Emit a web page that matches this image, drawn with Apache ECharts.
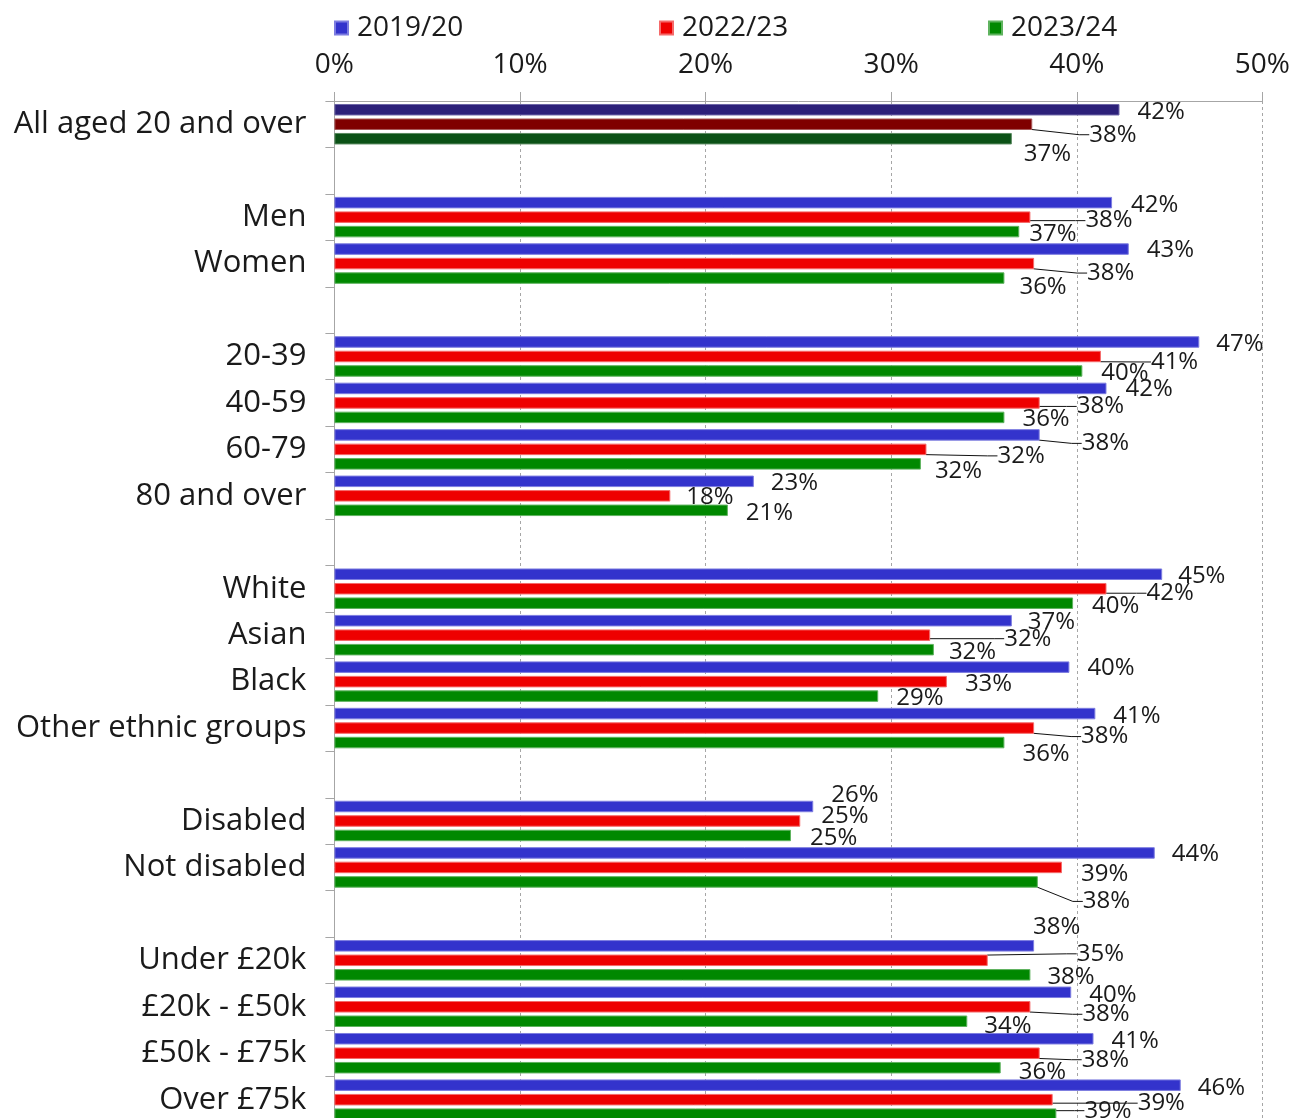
<!DOCTYPE html>
<html>
<head>
<meta charset="utf-8">
<title>Share of adults by group, 2019/20 to 2023/24</title>
<script src="https://cdn.jsdelivr.net/npm/echarts@6/dist/echarts.min.js"></script>
<style>
  html, body { margin: 0; padding: 0; background: #ffffff; overflow: hidden; }
  /* the plot runs slightly past the bottom of the window, so the canvas is taller */
  #chart { width: 1293px; height: 1140px; }
</style>
</head>
<body>
<div id="chart"></div>
<script>
// Row labels; empty strings are spacer rows between the groups
const categories = [
  'All aged 20 and over', '',
  'Men', 'Women', '',
  '20-39', '40-59', '60-79', '80 and over', '',
  'White', 'Asian', 'Black', 'Other ethnic groups', '',
  'Disabled', 'Not disabled', '',
  'Under £20k', '£20k - £50k', '£50k - £75k', 'Over £75k'
];

const seriesNames = ['2019/20', '2022/23', '2023/24'];

// Percentages per row (null on spacer rows)
const values2019 = [42.3, null, 41.9, 42.8, null, 46.6, 41.6, 38.0, 22.6, null, 44.6, 36.5, 39.6, 41.0, null, 25.8, 44.2, null, 37.7, 39.7, 40.9, 45.6];
const values2022 = [37.6, null, 37.5, 37.7, null, 41.3, 38.0, 31.9, 18.1, null, 41.6, 32.1, 33.0, 37.7, null, 25.1, 39.2, null, 35.2, 37.5, 38.0, 38.7];
const values2023 = [36.5, null, 36.9, 36.1, null, 40.3, 36.1, 31.6, 21.2, null, 39.8, 32.3, 29.3, 36.1, null, 24.6, 37.9, null, 37.5, 34.1, 35.9, 38.9];

const xTicks = [0, 10, 20, 30, 40, 50];

// Colours: regular rows, and the darker shade used on the headline row
const colours = ['#3333cc', '#ee0000', '#008800'];
const headlineColours = ['#2c2079', '#7f0000', '#0b5116'];
const borderColours = ['#7d7de0', '#f56a6a', '#5fb35f'];
const headlineBorderColours = ['#6e66a8', '#a85a5a', '#5a8a60'];

// Label nudges [dx, dy] in px from the default right-hand position
const labelNudges = [
  [[13,1], null, [14,1], [13,0], null, [12,1], [14,-1], [37,7], [12,0], null, [11,0], [11,0], [13,0], [13,1], null, [13,-13], [12,0], null, [-6,-20], [13,1], [13,1], [12,1]],
  [[52,9], null, [50,2], [48,8], null, [45,4], [32,2], [66,5], [11,0], null, [35,3], [69,2], [13,1], [42,7], null, [16,-6], [14,5], null, [84,-8], [47,6], [37,5], [80,2]],
  [[7,14], null, [5,1], [10,8], null, [14,1], [13,0], [9,6], [13,1], null, [14,1], [10,1], [13,1], [13,10], null, [14,1], [40,18], null, [12,1], [12,3], [13,3], [23,-5]]
];
// Rows whose label is joined to its bar by a leader line
const leaderRows = [
  [7],
  [0, 2, 3, 5, 6, 7, 10, 11, 13, 18, 19, 20, 21],
  [16, 21]
];
// Gap left between the end of a leader line and its label text
const LEADER_GAP = 7;
const LABEL_DISTANCE = 5;
// The digits sit a little high in their box; drop every value label slightly
const LABEL_BASE_DY = 1.5;

const FONT = '"Open Sans", Lato, sans-serif';
const TEXT = '#1a1a1a';
const GRID_GREY = '#a6a6a6';

const allValues = [values2019, values2022, values2023];

function hasLeader(s, i) {
  return leaderRows[s].indexOf(i) >= 0;
}

function buildData(values, s) {
  return values.map(function (v, i) {
    if (v === null) return null;
    const leader = hasLeader(s, i);
    const item = {
      value: v,
      labelLine: { show: leader },
      label: { padding: [0, 0, 0, leader ? LEADER_GAP : 0] }
    };
    if (i === 0) {
      item.itemStyle = { color: headlineColours[s], borderColor: headlineBorderColours[s] };
    }
    return item;
  });
}

// Place each label from the end of its own bar, shifted by its nudge
function labelLayout(p) {
  const nudge = labelNudges[p.seriesIndex][p.dataIndex];
  if (!nudge) return {};
  const r = p.rect;
  const pad = hasLeader(p.seriesIndex, p.dataIndex) ? LEADER_GAP : 0;
  return {
    x: r.x + r.width + LABEL_DISTANCE + nudge[0] - pad,
    y: r.y + r.height / 2 + nudge[1] + LABEL_BASE_DY,
    align: 'left',
    verticalAlign: 'middle'
  };
}

const series = seriesNames.map(function (name, s) {
  return {
    name: name,
    type: 'bar',
    data: buildData(allValues[s], s),
    barWidth: 11.5,
    barGap: '26%',
    itemStyle: { color: colours[s], borderColor: borderColours[s], borderWidth: 1 },
    label: {
      show: true,
      position: 'right',
      distance: LABEL_DISTANCE,
      fontFamily: FONT,
      fontSize: 24,
      color: TEXT,
      formatter: function (p) { return Math.round(p.value) + '%'; }
    },
    labelLine: { show: false, length2: 10, minTurnAngle: 0, lineStyle: { color: '#111111', width: 1 } },
    labelLayout: labelLayout,
    emphasis: { disabled: true },
    animation: false
  };
});

function legendFor(name, left) {
  return {
    data: [name],
    left: left,
    top: 8,
    icon: 'rect',
    itemWidth: 13,
    itemHeight: 13,
    itemGap: 0,
    selectedMode: false,
    textStyle: { fontFamily: FONT, fontSize: 28, color: TEXT, lineHeight: 30, padding: [0, 0, 0, 4] }
  };
}

const chart = echarts.init(document.getElementById('chart'), null, { renderer: 'canvas' });
chart.setOption({
  backgroundColor: '#ffffff',
  animation: false,
  legend: [
    legendFor('2019/20', 329),
    legendFor('2022/23', 654),
    legendFor('2023/24', 983)
  ],
  grid: { left: 334.4, top: 101, width: 928, height: 1021.9, containLabel: false },
  xAxis: {
    type: 'value',
    position: 'top',
    min: xTicks[0],
    max: xTicks[xTicks.length - 1],
    interval: xTicks[1] - xTicks[0],
    axisLine: { show: true, lineStyle: { color: GRID_GREY, width: 1 } },
    axisTick: { show: true, length: 9, lineStyle: { color: GRID_GREY } },
    axisLabel: {
      margin: 22,
      fontFamily: FONT,
      fontSize: 28,
      color: TEXT,
      formatter: function (v) { return v + '%'; }
    },
    splitLine: { show: true, lineStyle: { color: GRID_GREY, type: [3, 3], width: 1 } }
  },
  yAxis: {
    type: 'category',
    data: categories,
    inverse: true,
    axisLine: { show: true, lineStyle: { color: GRID_GREY, width: 1 } },
    axisTick: { show: true, length: 9, lineStyle: { color: GRID_GREY } },
    axisLabel: {
      margin: 28,
      fontFamily: FONT,
      fontSize: 31,
      color: TEXT,
      interval: 0,
      padding: [3, 0, 0, 0]
    },
    splitLine: { show: false }
  },
  series: series
});
</script>
</body>
</html>
